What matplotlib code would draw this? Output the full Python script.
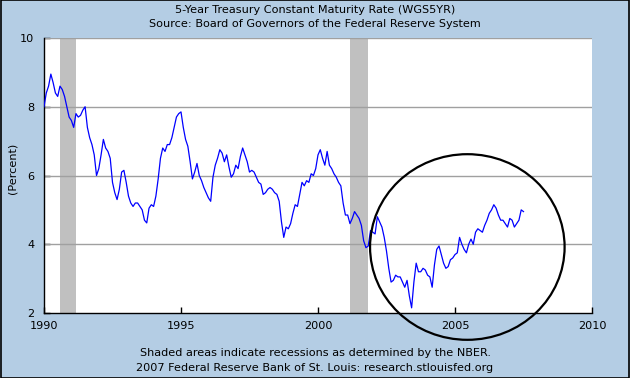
import numpy as np
import matplotlib
matplotlib.use("Agg")
import matplotlib.pyplot as plt
from matplotlib.patches import Ellipse

# Monthly 5-year treasury rate (percent)
rates_1990 = [8.0, 8.4, 8.6, 8.95, 8.7, 8.4, 8.3, 8.6, 8.5, 8.3, 8.0, 7.7]
rates_1991 = [7.6, 7.4, 7.8, 7.7, 7.75, 7.9, 8.0, 7.4, 7.1, 6.9, 6.6, 6.0]
rates_1992 = [6.2, 6.6, 7.05, 6.8, 6.7, 6.5, 5.8, 5.5, 5.3, 5.6, 6.1, 6.15]
rates_1993 = [5.8, 5.4, 5.2, 5.1, 5.2, 5.2, 5.1, 5.0, 4.7, 4.62, 5.05, 5.15]
rates_1994 = [5.1, 5.4, 5.9, 6.5, 6.8, 6.7, 6.9, 6.9, 7.1, 7.4, 7.7, 7.8]
rates_1995 = [7.85, 7.4, 7.05, 6.85, 6.4, 5.9, 6.1, 6.35, 6.0, 5.85, 5.65, 5.5]
rates_1996 = [5.35, 5.25, 5.95, 6.3, 6.5, 6.75, 6.65, 6.4, 6.6, 6.25, 5.95, 6.05]
rates_1997 = [6.3, 6.2, 6.55, 6.8, 6.6, 6.4, 6.1, 6.15, 6.1, 5.95, 5.8, 5.75]
rates_1998 = [5.45, 5.5, 5.6, 5.65, 5.6, 5.5, 5.45, 5.25, 4.65, 4.2, 4.5, 4.45]
rates_1999 = [4.6, 4.9, 5.15, 5.1, 5.45, 5.8, 5.7, 5.85, 5.8, 6.05, 6.0, 6.2]
rates_2000 = [6.6, 6.75, 6.5, 6.3, 6.7, 6.3, 6.2, 6.05, 5.95, 5.8, 5.7, 5.2]
rates_2001 = [4.85, 4.85, 4.6, 4.75, 4.95, 4.85, 4.75, 4.55, 4.1, 3.9, 3.95, 4.4]
rates_2002 = [4.35, 4.3, 4.8, 4.65, 4.5, 4.2, 3.8, 3.3, 2.9, 2.95, 3.1, 3.05]
rates_2003 = [3.05, 2.9, 2.75, 2.95, 2.5, 2.15, 2.9, 3.45, 3.2, 3.2, 3.3, 3.25]
rates_2004 = [3.1, 3.05, 2.75, 3.4, 3.85, 3.95, 3.7, 3.45, 3.3, 3.35, 3.55, 3.6]
rates_2005 = [3.7, 3.75, 4.2, 4.0, 3.85, 3.75, 4.0, 4.15, 4.0, 4.35, 4.45, 4.4]
rates_2006 = [4.35, 4.55, 4.7, 4.9, 5.0, 5.15, 5.05, 4.85, 4.7, 4.7, 4.6, 4.5]
rates_2007 = [4.75, 4.7, 4.5, 4.6, 4.7, 5.0, 4.95]

start_year = 1990

# NBER recessions (decimal years)
recession_starts = [1990.58, 2001.17]
recession_ends = [1991.17, 2001.83]

# hand-drawn circle annotation (data coords)
circle_center = (2005.45, 3.92)
circle_width = 7.1
circle_height = 5.4

x_ticks = [1990, 1995, 2000, 2005, 2010]
y_ticks = [2, 4, 6, 8, 10]

rates = np.array(rates_1990 + rates_1991 + rates_1992 + rates_1993 + rates_1994
                 + rates_1995 + rates_1996 + rates_1997 + rates_1998 + rates_1999
                 + rates_2000 + rates_2001 + rates_2002 + rates_2003 + rates_2004
                 + rates_2005 + rates_2006 + rates_2007)
dates = start_year + np.arange(len(rates)) / 12.0

bg = "#B4CDE4"
fs = 8.1
plt.rcParams["font.family"] = ["DejaVu Sans"]

fig = plt.figure(figsize=(6.3, 3.78), dpi=100, facecolor=bg)
ax = fig.add_axes([44 / 630, 1 - 313 / 378, 548 / 630, 275 / 378])
ax.set_facecolor("white")

for s, e in zip(recession_starts, recession_ends):
    ax.axvspan(s, e, color="#C0C0C0", lw=0, zorder=1)

for y in y_ticks[1:]:
    ax.axhline(y, color="#A0A0A0", lw=1.0, zorder=2)

ax.plot(dates, rates, color="#0000FF", lw=0.9, zorder=3)

ax.set_xlim(1990, 2010)
ax.set_ylim(2, 10)
ax.set_xticks(x_ticks)
ax.set_yticks(y_ticks)
ax.tick_params(direction="in", length=4, width=1, labelsize=fs, colors="black", pad=6)
ax.tick_params(axis="y", pad=7)
for sp in ["top", "right"]:
    ax.spines[sp].set_visible(False)
for sp in ["left", "bottom"]:
    ax.spines[sp].set_color("black")
    ax.spines[sp].set_linewidth(1)

ell = Ellipse(circle_center, circle_width, circle_height, fill=False,
              edgecolor="black", lw=1.6, clip_on=False, zorder=5)
ax.add_patch(ell)

fig.text(0.5, 1 - 10 / 378, "5-Year Treasury Constant Maturity Rate (WGS5YR)",
         ha="center", va="center", fontsize=fs)
fig.text(0.5, 1 - 24 / 378, "Source: Board of Governors of the Federal Reserve System",
         ha="center", va="center", fontsize=fs)
fig.text(13 / 630, 1 - 168 / 378, "(Percent)", rotation=90,
         ha="center", va="center", fontsize=fs)
fig.text(0.5, 1 - 353 / 378, "Shaded areas indicate recessions as determined by the NBER.",
         ha="center", va="center", fontsize=fs)
fig.text(0.5, 1 - 368 / 378, "2007 Federal Reserve Bank of St. Louis: research.stlouisfed.org",
         ha="center", va="center", fontsize=fs)

# thin border round the whole picture
fig.patches.append(plt.Rectangle((0.0008, 0.0013), 0.9984, 0.9974, transform=fig.transFigure,
                                 fill=False, edgecolor="black", lw=1.2))

fig.savefig("out.png", dpi=100, facecolor=bg)
